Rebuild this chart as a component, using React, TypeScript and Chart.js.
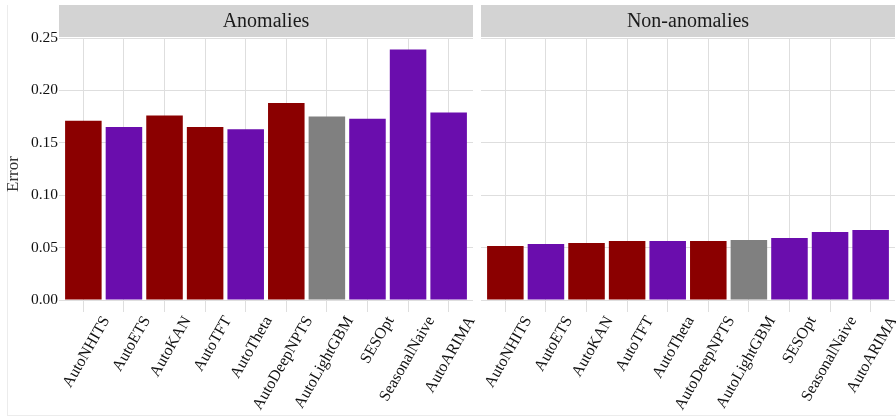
import React, { useEffect, useRef } from "react";
import { Chart, registerables } from "chart.js";
Chart.register(...registerables);

const models = ["AutoNHITS", "AutoETS", "AutoKAN", "AutoTFT", "AutoTheta", "AutoDeepNPTS", "AutoLightGBM", "SESOpt", "SeasonalNaive", "AutoARIMA"];
const modelColors = ["#8b0000", "#6a0dad", "#8b0000", "#8b0000", "#6a0dad", "#8b0000", "#808080", "#6a0dad", "#6a0dad", "#6a0dad"];
const anomaliesError = [0.171, 0.165, 0.176, 0.165, 0.163, 0.188, 0.175, 0.173, 0.239, 0.179];
const nonAnomaliesError = [0.0515, 0.0534, 0.0543, 0.0562, 0.0562, 0.0562, 0.0572, 0.0591, 0.0648, 0.0667];
const yTicks = [0, 0.05, 0.1, 0.15, 0.2, 0.25];
const panelTitles = ["Anomalies", "Non-anomalies"];
const yAxisTitle = "Error";

const W = 896;
const H = 418;
const FONT = "'Liberation Serif', 'Times New Roman', serif";
const GRID = "#dedede";
const TEXT = "#111";

function stripPlugin(title: string, showYTitle: boolean) {
  return {
    id: "strip",
    afterDraw(chart: any) {
      const { ctx, chartArea } = chart;
      ctx.save();
      ctx.fillStyle = "#d3d3d3";
      ctx.fillRect(chartArea.left, 5, chartArea.right - chartArea.left, 32);
      ctx.fillStyle = "#1a1a1a";
      ctx.font = `20px ${FONT}`;
      ctx.textAlign = "center";
      ctx.textBaseline = "middle";
      ctx.fillText(title, (chartArea.left + chartArea.right) / 2, 21.5);
      if (showYTitle) {
        ctx.translate(14, 174);
        ctx.rotate(-Math.PI / 2);
        ctx.fillStyle = "#333";
        ctx.font = `17px ${FONT}`;
        ctx.fillText(yAxisTitle, 0, 0);
      }
      ctx.restore();
    },
  };
}

function makeConfig(values: number[], title: string, isLeft: boolean): any {
  return {
    type: "bar",
    data: {
      datasets: [
        {
          data: values.map((v, i) => ({ x: i, y: v })),
          backgroundColor: modelColors,
          borderWidth: 0,
          barPercentage: 0.9,
          categoryPercentage: 1,
        },
      ],
    },
    plugins: [stripPlugin(title, isLeft)],
    options: {
      responsive: false,
      animation: false,
      events: [],
      layout: {
        padding: { left: 0, top: 38, right: isLeft ? W - 473 : 1, bottom: 0 },
      },
      plugins: { legend: { display: false }, tooltip: { enabled: false } },
      scales: {
        x: {
          type: "linear",
          offset: false,
          min: -0.6,
          max: models.length - 1 + 0.6,
          afterBuildTicks: (s: any) => {
            s.ticks = models.map((_, i) => ({ value: i }));
          },
          afterFit: (s: any) => {
            s.height = H - 300;
          },
          border: { display: false },
          grid: { offset: false, color: GRID, tickColor: GRID, tickLength: 12, lineWidth: 1 },
          ticks: {
            autoSkip: false,
            minRotation: 60,
            maxRotation: 60,
            labelOffset: 23,
            padding: 1,
            color: TEXT,
            font: { family: FONT, size: 16 },
            callback: (v: any) => models[v],
          },
        },
        y: {
          min: 0,
          max: 0.25,
          afterBuildTicks: (s: any) => {
            s.ticks = yTicks.map((v) => ({ value: v }));
          },
          afterFit: (s: any) => {
            s.width = isLeft ? 59 : 481;
          },
          border: { display: false },
          grid: { color: GRID, drawTicks: false, lineWidth: 1 },
          ticks: {
            display: isLeft,
            padding: 1,
            color: TEXT,
            font: { family: FONT, size: 15.5 },
            callback: (v: any) => Number(v).toFixed(2),
          },
        },
      },
    },
  };
}

export default function App() {
  const leftRef = useRef<HTMLCanvasElement>(null);
  const rightRef = useRef<HTMLCanvasElement>(null);
  useEffect(() => {
    const c1 = new Chart(leftRef.current!, makeConfig(anomaliesError, panelTitles[0], true));
    const c2 = new Chart(rightRef.current!, makeConfig(nonAnomaliesError, panelTitles[1], false));
    return () => {
      c1.destroy();
      c2.destroy();
    };
  }, []);
  const cs: React.CSSProperties = { position: "absolute", left: 0, top: 0, width: W, height: H };
  return (
    <div style={{ position: "fixed", left: 0, top: 0, width: W, height: H, background: "#fff", overflow: "hidden" }}>
      <div style={{ position: "absolute", left: 7, top: 5, width: W, height: 410, borderLeft: "1px solid #ececec", borderBottom: "1px solid #ececec" }} />
      <canvas ref={leftRef} width={W} height={H} style={cs} />
      <canvas ref={rightRef} width={W} height={H} style={cs} />
    </div>
  );
}
